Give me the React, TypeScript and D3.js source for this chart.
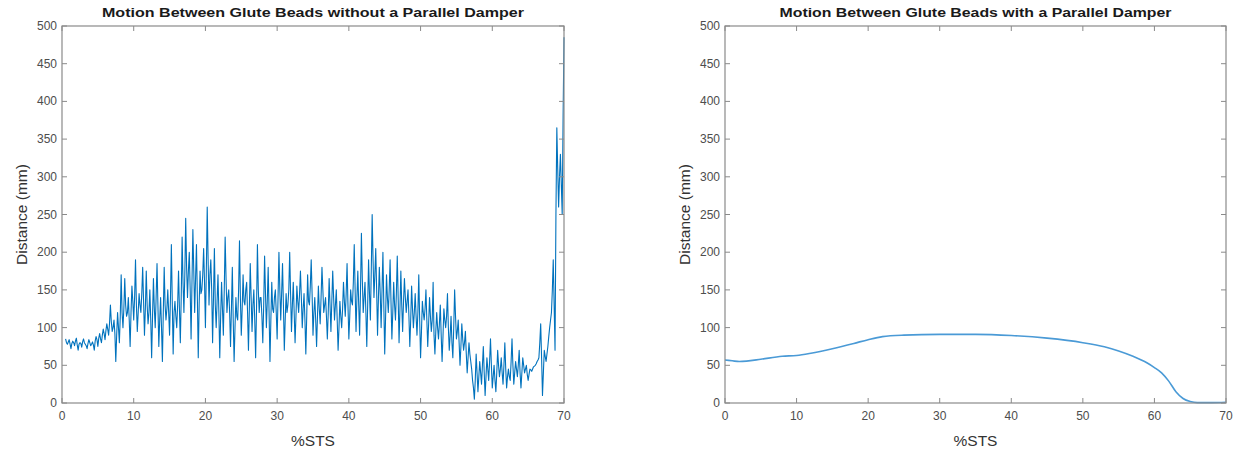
import React from "react";
import * as d3 from "d3";

const titles = [
  "Motion Between Glute Beads without a Parallel Damper",
  "Motion Between Glute Beads with a Parallel Damper",
];
const titleWidths = [422, 392];
const xLabel = "%STS";
const yLabel = "Distance (mm)";
const xTicks = [0, 10, 20, 30, 40, 50, 60, 70];
const yTicks = [0, 50, 100, 150, 200, 250, 300, 350, 400, 450, 500];

// Left panel: noisy signal, main samples every 0.25 %STS starting at 0.5
const noisyStart = 0.5;
const noisyStep = 0.25;
const noisyValues = [
  85, 78, 84, 72, 82, 76, 86, 70, 80, 74, 85, 78, 72, 84, 76, 81,
  70, 88, 75, 92, 80, 98, 84, 105, 90, 130, 95, 110, 55, 120, 80, 170,
  100, 165, 115, 140, 75, 155, 110, 190, 95, 145, 120, 180, 90, 175, 105, 150,
  60, 165, 100, 185, 75, 140, 55, 180, 110, 150, 90, 210, 65, 135, 100, 175,
  80, 220, 120, 245, 140, 200, 85, 230, 120, 210, 60, 175, 150, 205, 100, 260,
  130, 190, 80, 205, 100, 170, 60, 160, 90, 220, 120, 150, 75, 180, 55, 140,
  110, 215, 90, 170, 130, 160, 70, 185, 95, 150, 60, 210, 120, 140, 80, 195,
  100, 180, 55, 160, 120, 150, 85, 200, 110, 185, 70, 145, 130, 200, 95, 160,
  80, 155, 120, 175, 100, 145, 65, 170, 130, 190, 90, 140, 75, 155, 105, 180,
  120, 140, 85, 165, 95, 175, 110, 150, 70, 135, 100, 160, 115, 185, 85, 150,
  130, 210, 95, 175, 90, 225, 120, 160, 75, 190, 110, 250, 140, 205, 90, 180,
  100, 200, 65, 170, 120, 190, 85, 160, 110, 195, 80, 175, 95, 165, 120, 150,
  75, 155, 100, 145, 90, 170, 60, 135, 110, 150, 75, 140, 95, 160, 65, 120,
  85, 130, 55, 125, 100, 145, 70, 115, 60, 150, 85, 110, 50, 105, 70, 95,
  40, 80, 55, 30, 5, 65, 15, 55, 25, 75, 10, 60, 30, 85, 20, 50,
  15, 70, 35, 60, 25, 80, 20, 45, 30, 85, 25, 55, 35, 70, 20, 60,
  40, 50, 30, 45, 42, 48, 50, 55, 60, 105, 10, 70, 55, 75, 100, 120,
  190, 70, 365, 260, 330, 250, 485,
];
// In-between samples (half a step after each main sample)
const noisyMidValues = [
  80, 81, 78, 79, 80, 82, 77, 78, 79, 81, 80, 76, 79, 80, 78, 77,
  82, 84, 86, 85, 90, 92, 96, 98, 105, 108, 100, 92, 90, 100, 115, 120,
  125, 130, 120, 110, 120, 135, 140, 130, 120, 130, 145, 135, 125, 130, 120, 110,
  115, 125, 140, 130, 110, 100, 120, 130, 125, 120, 140, 135, 120, 115, 130, 125,
  140, 160, 170, 180, 175, 150, 160, 175, 165, 140, 130, 145, 170, 160, 175, 190,
  170, 150, 140, 130, 135, 120, 115, 125, 150, 165, 140, 120, 125, 110, 100, 115,
  150, 140, 125, 135, 150, 120, 125, 140, 130, 110, 125, 150, 140, 115, 130, 145,
  135, 120, 110, 125, 140, 120, 140, 150, 145, 130, 110, 120, 150, 145, 130, 120,
  115, 135, 145, 140, 125, 110, 115, 135, 155, 145, 120, 110, 115, 125, 140, 150,
  130, 115, 120, 130, 135, 140, 130, 110, 100, 115, 125, 135, 145, 130, 115, 135,
  160, 150, 140, 130, 150, 165, 140, 120, 130, 145, 175, 190, 170, 150, 140, 145,
  150, 130, 115, 140, 150, 135, 120, 130, 145, 140, 125, 130, 135, 140, 135, 115,
  110, 125, 120, 115, 120, 110, 95, 120, 125, 110, 105, 115, 110, 90, 95, 100,
  105, 90, 88, 110, 115, 100, 90, 80, 100, 115, 95, 80, 75, 85, 80, 65,
  60, 65, 45, 20, 30, 40, 35, 40, 50, 40, 35, 45, 55, 50, 35, 30,
  40, 50, 45, 40, 50, 45, 35, 35, 55, 50, 40, 45, 50, 40, 40, 50,
  45, 38, 38, 44, 45, 49, 52, 57, 80, 60, 40, 62, 65, 88, 110, 150,
  130, 250, 310, 300, 290, 380,
];

// Right panel: smooth curve
const smoothX = [0, 1, 2, 3, 5, 8, 10, 12, 15, 18, 20, 22, 25, 30, 35, 40, 45, 50, 53, 55, 57, 59, 60, 61, 62, 63, 64, 65, 66, 68, 70];
const smoothY = [57, 56, 55, 55.5, 58, 62, 63, 66, 72, 79, 84, 88, 90, 91, 91, 89.5, 86, 80, 74.5, 69, 62, 53, 47, 40, 29, 15, 6, 2, 0.5, 0.5, 1];

const W = 1244;
const H = 450;
const panels = [
  { left: 62, right: 564, top: 26, bottom: 403 },
  { left: 725, right: 1226, top: 26, bottom: 403 },
];

const lineColor = "#0072BD";
const axisColor = "#8a8a8a";
const textColor = "#4d4d4d";
const font = "'Liberation Sans', Arial, sans-serif";

function Panel({ idx, data, strokeWidth, color, curve }: { idx: number; data: [number, number][]; strokeWidth: number; color: string; curve: any }) {
  const p = panels[idx];
  const x = d3.scaleLinear().domain([0, 70]).range([p.left, p.right]);
  const y = d3.scaleLinear().domain([0, 500]).range([p.bottom, p.top]);
  const line = d3.line<[number, number]>().x((d) => x(d[0])).y((d) => y(d[1])).curve(curve);
  const tl = 5;
  const cx = (p.left + p.right) / 2;
  const cy = (p.top + p.bottom) / 2;
  return (
    <g>
      <path d={line(data) || ""} fill="none" stroke={color} strokeWidth={strokeWidth} strokeLinejoin="round" />
      <rect x={p.left} y={p.top} width={p.right - p.left} height={p.bottom - p.top} fill="none" stroke={axisColor} strokeWidth={1.2} />
      {xTicks.map((t) => (
        <g key={"x" + t}>
          <line x1={x(t)} x2={x(t)} y1={p.bottom} y2={p.bottom - tl} stroke={axisColor} />
          <line x1={x(t)} x2={x(t)} y1={p.top} y2={p.top + tl} stroke={axisColor} />
          <text x={x(t)} y={p.bottom + 17} textAnchor="middle" fontSize={12} fill={textColor} fontFamily={font}>
            {t}
          </text>
        </g>
      ))}
      {yTicks.map((t) => (
        <g key={"y" + t}>
          <line x1={p.left} x2={p.left + tl} y1={y(t)} y2={y(t)} stroke={axisColor} />
          <line x1={p.right} x2={p.right - tl} y1={y(t)} y2={y(t)} stroke={axisColor} />
          <text x={p.left - 5} y={y(t) + 4} textAnchor="end" fontSize={12} fill={textColor} fontFamily={font}>
            {t}
          </text>
        </g>
      ))}
      <text x={cx} y={17} textAnchor="middle" fontSize={13.5} fontWeight="bold" fill="#1a1a1a" fontFamily={font}
        textLength={titleWidths[idx]} lengthAdjust="spacingAndGlyphs">
        {titles[idx]}
      </text>
      <text x={cx} y={446} textAnchor="middle" fontSize={15.5} fill="#333" fontFamily={font}>
        {xLabel}
      </text>
      <text transform={`translate(${p.left - 35},${cy}) rotate(-90)`} textAnchor="middle" fontSize={15.5} fill="#333" fontFamily={font}>
        {yLabel}
      </text>
    </g>
  );
}

export default function App() {
  const noisy: [number, number][] = [];
  noisyValues.forEach((v, i) => {
    noisy.push([noisyStart + i * noisyStep, v]);
    if (i < noisyMidValues.length) noisy.push([noisyStart + (i + 0.5) * noisyStep, noisyMidValues[i]]);
  });
  const smooth: [number, number][] = smoothX.map((xv, i) => [xv, smoothY[i]]);
  return (
    <svg width={W} height={H} style={{ position: "absolute", left: 0, top: 0, background: "#fff" }}>
      <rect width={W} height={H} fill="#fff" />
      <Panel idx={0} data={noisy} strokeWidth={1.1} color={lineColor} curve={d3.curveLinear} />
      <Panel idx={1} data={smooth} strokeWidth={1.6} color="#4a9ad6" curve={d3.curveMonotoneX} />
    </svg>
  );
}
